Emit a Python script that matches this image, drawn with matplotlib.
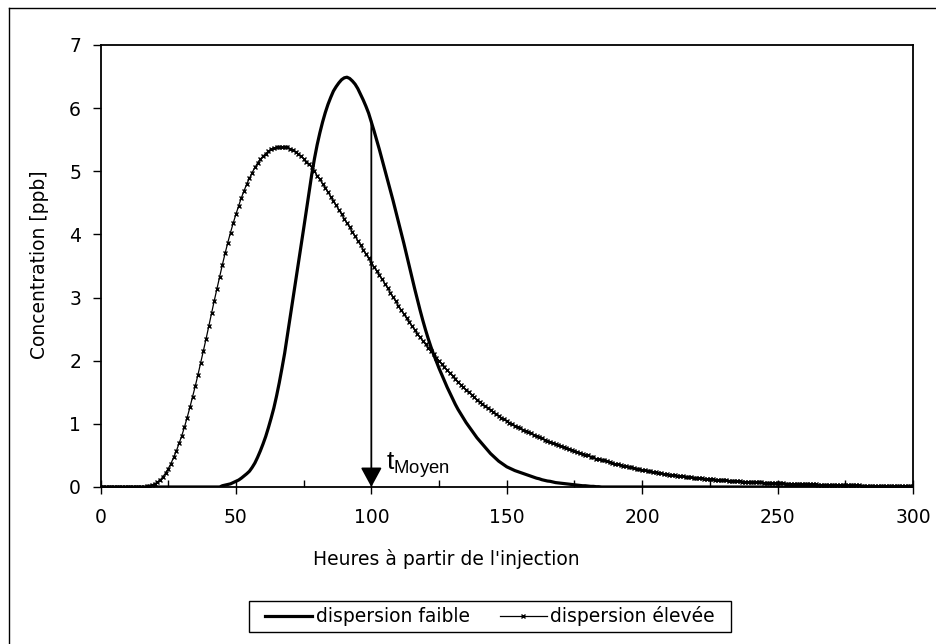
import matplotlib
matplotlib.use("Agg")
import matplotlib.pyplot as plt
from matplotlib.lines import Line2D
from matplotlib.patches import Rectangle

plt.rcParams['font.family'] = ['DejaVu Sans']
plt.rcParams['mathtext.fontset'] = 'custom'
plt.rcParams['mathtext.rm'] = 'Liberation Sans'

# Hours after injection (hourly samples 0..300)
hours = list(range(0, 301))

# Low dispersion curve (ppb), hourly 0..300
faible = (
    [0.0] * 45 +
    [0.02, 0.03, 0.04, 0.05, 0.07,
     0.09, 0.11, 0.14, 0.175, 0.21, 0.25, 0.31, 0.38, 0.47, 0.57,
     0.68, 0.80, 0.94, 1.09, 1.25, 1.44, 1.65, 1.88, 2.12, 2.40,
     2.68, 2.97, 3.25, 3.52, 3.80, 4.09, 4.38, 4.67, 4.95, 5.20,
     5.42, 5.61, 5.78, 5.93, 6.06, 6.17, 6.27, 6.34, 6.40, 6.45,
     6.48, 6.49, 6.47, 6.43, 6.38, 6.31, 6.22, 6.13, 6.03, 5.92,
     5.78, 5.64, 5.49, 5.34, 5.18, 5.02, 4.86, 4.70, 4.54, 4.37,
     4.20, 4.03, 3.86, 3.68, 3.50, 3.32, 3.14, 2.97, 2.80, 2.64,
     2.49, 2.35, 2.22, 2.10, 1.99, 1.88, 1.78, 1.68, 1.58, 1.49,
     1.40, 1.31, 1.23, 1.16, 1.09, 1.02, 0.96, 0.90, 0.84, 0.78,
     0.73, 0.68, 0.63, 0.58, 0.53, 0.49, 0.45, 0.41, 0.38, 0.35,
     0.32, 0.30, 0.28, 0.26, 0.245, 0.23, 0.215, 0.20, 0.185, 0.17,
     0.155, 0.14, 0.13, 0.115, 0.105, 0.095, 0.09, 0.08, 0.07, 0.065,
     0.06, 0.055, 0.05, 0.045, 0.04, 0.035, 0.03, 0.025, 0.02, 0.02,
     0.015, 0.01, 0.01, 0.005, 0.005] +
    [0.0] * 116
)

# High dispersion curve (ppb), hourly 0..300
elevee = [
    0.0, 0.0, 0.0, 0.0, 0.0, 0.0, 0.0, 0.0, 0.0, 0.0,
    0.0, 0.0, 0.0, 0.0, 0.0, 0.0, 0.0, 0.01, 0.02, 0.035,
    0.05, 0.08, 0.11, 0.16, 0.22, 0.29, 0.37, 0.47, 0.57, 0.69,
    0.81, 0.95, 1.10, 1.26, 1.43, 1.60, 1.78, 1.97, 2.16, 2.35,
    2.55, 2.75, 2.95, 3.14, 3.33, 3.52, 3.70, 3.87, 4.03, 4.18,
    4.32, 4.45, 4.58, 4.69, 4.80, 4.89, 4.98, 5.06, 5.13, 5.19,
    5.24, 5.28, 5.32, 5.35, 5.37, 5.38, 5.39, 5.39, 5.39, 5.38,
    5.36, 5.34, 5.31, 5.28, 5.24, 5.20, 5.15, 5.11, 5.06, 5.00,
    4.93, 4.87, 4.80, 4.74, 4.67, 4.60, 4.53, 4.46, 4.39, 4.32,
    4.25, 4.18, 4.11, 4.04, 3.97, 3.90, 3.83, 3.76, 3.69, 3.62,
    3.55, 3.48, 3.42, 3.35, 3.29, 3.22, 3.15, 3.08, 3.01, 2.94,
    2.87, 2.80, 2.74, 2.67, 2.61, 2.55, 2.49, 2.43, 2.37, 2.31,
    2.26, 2.20, 2.15, 2.10, 2.05, 2.00, 1.95, 1.90, 1.85, 1.80,
    1.76, 1.71, 1.67, 1.62, 1.58, 1.54, 1.50, 1.46, 1.42, 1.38,
    1.35, 1.31, 1.28, 1.25, 1.22, 1.19, 1.16, 1.13, 1.10, 1.07,
    1.05, 1.02, 1.00, 0.97, 0.95, 0.93, 0.91, 0.89, 0.87, 0.85,
    0.83, 0.81, 0.79, 0.77, 0.75, 0.73, 0.72, 0.70, 0.68, 0.66,
    0.65, 0.63, 0.62, 0.60, 0.59, 0.57, 0.56, 0.54, 0.53, 0.51,
    0.50, 0.48, 0.47, 0.45, 0.44, 0.43, 0.42, 0.41, 0.40, 0.385,
    0.37, 0.36, 0.35, 0.34, 0.33, 0.32, 0.31, 0.30, 0.29, 0.28,
    0.27, 0.262, 0.255, 0.247, 0.24, 0.232, 0.225, 0.217, 0.21, 0.202,
    0.195, 0.19, 0.185, 0.18, 0.175, 0.17, 0.165, 0.16, 0.155, 0.15,
    0.145, 0.141, 0.137, 0.133, 0.13, 0.126, 0.122, 0.118, 0.115, 0.111,
    0.108, 0.105, 0.102, 0.099, 0.096, 0.093, 0.09, 0.087, 0.085, 0.082,
    0.08, 0.078, 0.076, 0.074, 0.072, 0.07, 0.068, 0.066, 0.064, 0.062,
    0.06, 0.058, 0.057, 0.055, 0.054, 0.052, 0.051, 0.049, 0.048, 0.046,
    0.045, 0.044, 0.043, 0.041, 0.040, 0.039, 0.038, 0.036, 0.035, 0.034,
    0.033, 0.032, 0.031, 0.030, 0.029, 0.028, 0.027, 0.026, 0.025, 0.024,
    0.024, 0.023, 0.022, 0.022, 0.021, 0.020, 0.020, 0.019, 0.018, 0.018,
    0.017, 0.017, 0.016, 0.016, 0.015, 0.015, 0.014, 0.014, 0.013, 0.013,
    0.012,
]

labels = ["dispersion faible", "dispersion élevée"]
t_moyen = 100
t_moyen_conc = 5.8

x_ticks = [0, 50, 100, 150, 200, 250, 300]
y_ticks = [0, 1, 2, 3, 4, 5, 6, 7]

FS = 13.5
W, H = 936, 644
fig = plt.figure(figsize=(W / 100, H / 100), dpi=100)
fig.patch.set_facecolor('white')

left, right, top, bottom = 100.5, 913, 45, 487
ax = fig.add_axes([left / W, 1 - bottom / H, (right - left) / W, (bottom - top) / H])

ax.plot(hours, faible, color='black', lw=2.3, label=labels[0], zorder=3)
ax.plot(hours, elevee, color='black', lw=0.9, marker='x', markersize=3.2,
        markeredgewidth=1.0, label=labels[1], zorder=3)

ax.set_xlim(0, 300)
ax.set_ylim(0, 7)
ax.set_xticks(x_ticks)
ax.set_xticks([25, 75, 125, 175, 225, 275], minor=True)
ax.set_yticks(y_ticks)
ax.set_xticklabels([str(v) for v in x_ticks])
ax.set_yticklabels([str(v) for v in y_ticks])
ax.tick_params(axis='x', which='major', direction='inout', length=10, width=1,
               pad=10, labelsize=FS)
ax.tick_params(axis='x', which='minor', direction='in', length=5, width=1)
ax.tick_params(axis='y', which='major', direction='out', length=6, width=1,
               pad=8, labelsize=FS)
for s in ax.spines.values():
    s.set_linewidth(1.3)
    s.set_color('black')

# Arrow marking mean time
ax.annotate('', xy=(t_moyen, 0), xytext=(t_moyen, t_moyen_conc),
            arrowprops=dict(arrowstyle='-|>,head_length=1.2,head_width=0.65',
                            color='black', lw=1.3, shrinkA=0, shrinkB=0,
                            mutation_scale=10), zorder=4)
ax.text(t_moyen + 5.5, 0.28, r'$\mathregular{t_{Moyen}}$', fontsize=19,
        family='Liberation Sans', ha='left', va='baseline')

fig.text(446 / W, 1 - 559 / H, "Heures à partir de l'injection", fontsize=FS,
         ha='center', va='center')
fig.text(40 / W, 1 - 265 / H, "Concentration [ppb]", fontsize=FS,
         ha='center', va='center', rotation=90)

leg = fig.legend(loc='center left', bbox_to_anchor=(265 / W, 1 - 616.5 / H), ncol=2,
                 fontsize=FS, frameon=False, handlelength=2.5, handletextpad=0.2,
                 columnspacing=1.6, borderpad=0, borderaxespad=0)

# Legend frame drawn around legend contents
fig.canvas.draw()
bb = leg.get_window_extent()
x0 = 249
x1 = bb.x1 + 16
y0 = H - 632
y1 = H - 601
fig.add_artist(Rectangle((x0 / W, y0 / H), (x1 - x0) / W, (y1 - y0) / H,
                         transform=fig.transFigure, fill=False,
                         edgecolor='black', lw=1.0))

# Outer chart border (extends past right/bottom edges)
fig.add_artist(Line2D([9 / W, 9 / W], [1 - 8 / H, -0.1], color='black', lw=1.0,
                      transform=fig.transFigure))
fig.add_artist(Line2D([9 / W, 1.1], [1 - 8 / H, 1 - 8 / H], color='black', lw=1.0,
                      transform=fig.transFigure))

fig.savefig('out.png', dpi=100)
